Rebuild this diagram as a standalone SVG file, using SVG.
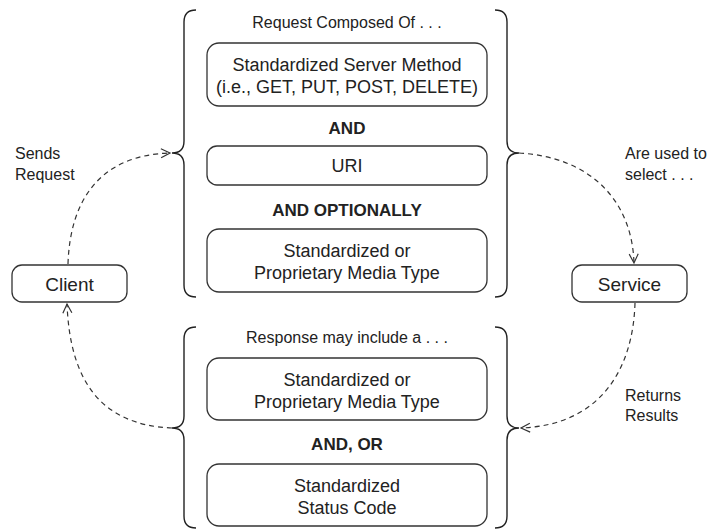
<svg xmlns="http://www.w3.org/2000/svg" width="709" height="530" viewBox="0 0 709 530">
<style>
  text { font-family: "Liberation Sans", Arial, Helvetica, sans-serif; fill: #222; }
  .box { fill: #fff; stroke: #333; stroke-width: 1.3; }
  .brace { fill: none; stroke: #222; stroke-width: 1.4; }
  .conn { fill: none; stroke: #333; stroke-width: 1.2; stroke-dasharray: 5 4; marker-end: url(#arr); }
  .bt { font-size: 18px; text-anchor: middle; }
  .bold { font-size: 17px; font-weight: bold; text-anchor: middle; }
  .hdr { font-size: 16px; text-anchor: middle; }
  .side { font-size: 16px; }
  .actor { font-size: 19px; text-anchor: middle; }
</style>
<defs>
  <marker id="arr" markerUnits="userSpaceOnUse" markerWidth="12" markerHeight="12" refX="10" refY="5" orient="auto" overflow="visible">
    <path d="M1,0.5 L10,5 L1,9.5" fill="none" stroke="#333" stroke-width="1.2"/>
  </marker>
</defs>

<g id="request-brace">
  <path class="brace" d="M196,10 Q184,10 184,22 L184,141 Q184,153 172,153 Q184,153 184,165 L184,285 Q184,297 196,297"/>
  <path class="brace" d="M495,10 Q507,10 507,22 L507,141 Q507,153 519,153 Q507,153 507,165 L507,285 Q507,297 495,297"/>
  <text class="hdr" x="347" y="28">Request Composed Of . . .</text>
</g>
<g id="method">
  <rect class="box" x="207" y="43" width="280" height="63" rx="12"/>
  <text class="bt" x="347" y="71">Standardized Server Method</text>
  <text class="bt" x="347" y="93">(i.e., GET, PUT, POST, DELETE)</text>
</g>
<g id="and1"><text class="bold" x="347" y="134">AND</text></g>
<g id="uri">
  <rect class="box" x="207" y="146" width="280" height="39" rx="10"/>
  <text class="bt" x="347" y="172">URI</text>
</g>
<g id="and-optionally"><text class="bold" x="347" y="216">AND OPTIONALLY</text></g>
<g id="media-req">
  <rect class="box" x="207" y="229" width="280" height="63" rx="12"/>
  <text class="bt" x="347" y="257">Standardized or</text>
  <text class="bt" x="347" y="279">Proprietary Media Type</text>
</g>

<g id="response-brace">
  <path class="brace" d="M196,327 Q184,327 184,339 L184,416 Q184,428 172,428 Q184,428 184,440 L184,516 Q184,528 196,528"/>
  <path class="brace" d="M495,327 Q507,327 507,339 L507,416 Q507,428 519,428 Q507,428 507,440 L507,516 Q507,528 495,528"/>
  <text class="hdr" x="347" y="343">Response may include a . . .</text>
</g>
<g id="media-resp">
  <rect class="box" x="207" y="358" width="280" height="62" rx="12"/>
  <text class="bt" x="347" y="386">Standardized or</text>
  <text class="bt" x="347" y="408">Proprietary Media Type</text>
</g>
<g id="and-or"><text class="bold" x="347" y="450">AND, OR</text></g>
<g id="status">
  <rect class="box" x="207" y="464" width="280" height="62" rx="12"/>
  <text class="bt" x="347" y="492">Standardized</text>
  <text class="bt" x="347" y="514">Status Code</text>
</g>

<g id="client">
  <rect class="box" x="12" y="265" width="115" height="37" rx="10"/>
  <text class="actor" x="69.5" y="291">Client</text>
</g>
<g id="service">
  <rect class="box" x="572" y="265" width="115" height="37" rx="10"/>
  <text class="actor" x="629.5" y="291">Service</text>
</g>

<g id="connectors">
  <path class="conn" d="M68,264 C70,200 100,155 170,153"/>
  <path class="conn" d="M519,153 C590,157 632,200 634,263"/>
  <path class="conn" d="M635,303 C633,370 600,425 521,428"/>
  <path class="conn" d="M172,428 C100,425 70,380 67,304"/>
</g>

<g id="labels">
  <text class="side" x="15" y="159">Sends</text>
  <text class="side" x="15" y="180">Request</text>
  <text class="side" x="625" y="159">Are used to</text>
  <text class="side" x="625" y="180">select . . .</text>
  <text class="side" x="625" y="401">Returns</text>
  <text class="side" x="625" y="421">Results</text>
</g>
</svg>
